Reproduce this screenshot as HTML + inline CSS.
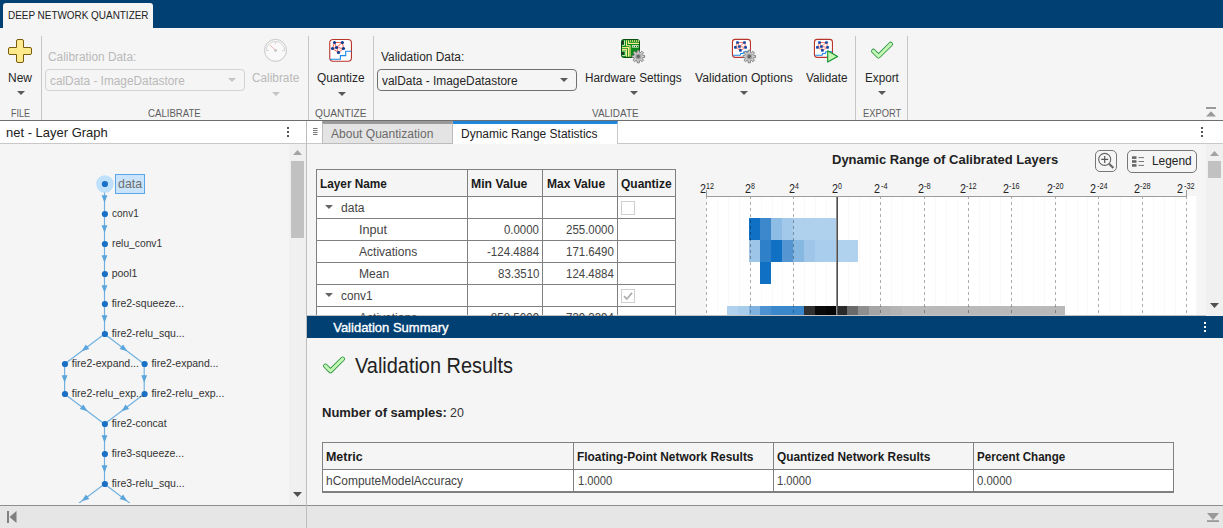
<!DOCTYPE html>
<html><head><meta charset="utf-8">
<style>
*{box-sizing:border-box;margin:0;padding:0}
html,body{width:1223px;height:528px;overflow:hidden;background:#f5f5f5;font-family:"Liberation Sans",sans-serif;color:#212121}
.a{position:absolute}
.t{position:absolute;white-space:nowrap;line-height:1;transform-origin:0 0}
.sep{position:absolute;top:36px;width:1px;height:84px;background:#c6c6c6}
.arrow{position:absolute;width:0;height:0;border-left:4px solid transparent;border-right:4px solid transparent;border-top:4px solid #5a5a5a}
.arrow.d{border-top-color:#c4c4c4}
.combo{position:absolute;height:22px;border:1px solid #707070;border-radius:4px;background:#f5f5f5}
.combo.d{border-color:#d2d2d2}
svg{position:absolute;overflow:visible}
.hl{position:absolute;height:1px;background:#7d7d7d}
.vl{position:absolute;width:1px;background:#7d7d7d}
</style></head><body>
<!-- top bar -->
<div class="a" style="left:0;top:0;width:1223px;height:28px;background:#004073"></div>
<div class="a" style="left:3px;top:3px;width:150px;height:25px;background:#f5f5f5;border-radius:3px 3px 0 0"></div>
<div class="a" style="left:0;top:120px;width:1223px;height:1px;background:#6e6e6e"></div>
<div class="sep" style="left:41px"></div>
<div class="sep" style="left:308px"></div>
<div class="sep" style="left:373px"></div>
<div class="sep" style="left:855px"></div>
<div class="sep" style="left:907px"></div>
<!-- toolstrip arrows/combos -->
<div class="arrow" style="left:17px;top:91px"></div>
<div class="combo d" style="left:45px;top:69px;width:200px"></div>
<div class="arrow d" style="left:228px;top:78px"></div>
<div class="arrow d" style="left:272px;top:92px"></div>
<div class="arrow" style="left:338px;top:92px"></div>
<div class="combo" style="left:377px;top:69px;width:200px"></div>
<div class="arrow" style="left:560px;top:78px"></div>
<div class="arrow" style="left:630px;top:91px"></div>
<div class="arrow" style="left:740px;top:91px"></div>
<div class="arrow" style="left:878px;top:91px"></div>
<svg style="left:0;top:0" width="50" height="70"><path d="M16.50 41.00 Q16.50 39.50 18.00 39.50 L22.00 39.50 Q23.50 39.50 23.50 41.00 L23.50 47.50 L30.00 47.50 Q31.50 47.50 31.50 49.00 L31.50 53.00 Q31.50 54.50 30.00 54.50 L23.50 54.50 L23.50 61.00 Q23.50 62.50 22.00 62.50 L18.00 62.50 Q16.50 62.50 16.50 61.00 L16.50 54.50 L10.00 54.50 Q8.50 54.50 8.50 53.00 L8.50 49.00 Q8.50 47.50 10.00 47.50 L16.50 47.50Z" fill="#fdea8c" stroke="#7a5a0c" stroke-width="1"/></svg>
<svg style="left:260px;top:35px" width="32" height="32" viewBox="260 35 32 32"><circle cx="275.5" cy="50.4" r="11" fill="#f9f9f9" stroke="#c6c6c6" stroke-width="1"/><path d="M266.3 50.6 A9.2 9.2 0 0 1 284.7 50.6" fill="none" stroke="#d6d6d6" stroke-width="1"/><path d="M266.3 50.6h2.6M282.1 50.6h2.6M275.5 41.8v2" stroke="#d0d0d0" stroke-width="1"/><path d="M275.5 50.4L270.3 45.3" stroke="#ecb9a8" stroke-width="1"/><circle cx="275.5" cy="50.4" r="1.4" fill="#c4c4c4"/></svg>
<svg style="left:0;top:0" width="1223" height="70"><rect x="329.75" y="39.55" width="21.70" height="21.70" rx="3.4" fill="#fff" stroke="#b8352b" stroke-width="1.1"/><line x1="334.5" y1="42.5" x2="342.4" y2="42.5" stroke="#f0503f" stroke-width="0.9"/><line x1="334.5" y1="42.5" x2="332.5" y2="48.5" stroke="#f0503f" stroke-width="0.9"/><line x1="334.5" y1="42.5" x2="336.5" y2="47.5" stroke="#f0503f" stroke-width="0.9"/><line x1="342.4" y1="42.5" x2="336.5" y2="47.5" stroke="#f0503f" stroke-width="0.9"/><line x1="342.4" y1="42.5" x2="343.5" y2="48.5" stroke="#f0503f" stroke-width="0.9"/><line x1="332.5" y1="48.5" x2="338.5" y2="52.5" stroke="#f0503f" stroke-width="0.9"/><line x1="336.5" y1="47.5" x2="338.5" y2="52.5" stroke="#f0503f" stroke-width="0.9"/><line x1="343.5" y1="48.5" x2="338.5" y2="52.5" stroke="#f0503f" stroke-width="0.9"/><line x1="336.5" y1="47.5" x2="343.5" y2="48.5" stroke="#f0503f" stroke-width="0.9"/><line x1="332.5" y1="48.5" x2="336.5" y2="47.5" stroke="#f0503f" stroke-width="0.9"/><circle cx="334.5" cy="42.5" r="1.6" fill="#0b3d91"/><circle cx="342.4" cy="42.5" r="1.6" fill="#0b3d91"/><circle cx="332.5" cy="48.5" r="1.6" fill="#0b3d91"/><circle cx="336.5" cy="47.5" r="1.6" fill="#0b3d91"/><circle cx="343.5" cy="48.5" r="1.6" fill="#0b3d91"/><circle cx="338.5" cy="52.5" r="1.6" fill="#0b3d91"/><path d="M329.9 59.3 L340.4 59.3 L340.4 55.6 L345.7 55.6 L345.7 51.3 L351.4 51.3" fill="none" stroke="#1e88e5" stroke-width="1.1"/></svg>
<svg style="left:0;top:0" width="1223" height="70"><rect x="621.5" y="39.5" width="18" height="18" rx="2.2" fill="#0b8a1c" stroke="#08500f" stroke-width="1"/><path d="M626.5 40.3V45.7H630V56.7M628.5 40.3V43.4H639M622 47.6H628.5V56.7M622 49.6H626.5V56.7" fill="none" stroke="#fbe98a" stroke-width="1.1"/><path d="M630.5 40.3v1.4M632.5 40.3v1.4M634.5 40.3v1.4M636.5 40.3v1.4M638.4 40.3v1.4" stroke="#fbe98a" stroke-width="1.1"/><path d="M624.5 40.3V45.4H622M622 51H625.4V55.6H622" fill="none" stroke="#b9f0b0" stroke-width="1"/><rect x="631.9" y="45.1" width="6.7" height="2.5" fill="#dff8d0"/><rect x="632.8" y="45.9" width="1" height="1" fill="#1a3a1a"/><rect x="635" y="45.9" width="1" height="1" fill="#1a3a1a"/><rect x="637" y="45.9" width="1" height="1" fill="#1a3a1a"/><rect x="622.2" y="40.8" width="1.5" height="3.7" fill="#2a2030"/><rect x="622.2" y="52.2" width="1.5" height="2.6" fill="#2a2030"/></svg>
<svg style="left:0;top:0" width="1223" height="70"><path d="M644.61 55.42 L644.61 57.58 L642.62 57.69 L642.20 58.71 L643.53 60.19 L641.99 61.73 L640.51 60.40 L639.49 60.82 L639.38 62.81 L637.22 62.81 L637.11 60.82 L636.09 60.40 L634.61 61.73 L633.07 60.19 L634.40 58.71 L633.98 57.69 L631.99 57.58 L631.99 55.42 L633.98 55.31 L634.40 54.29 L633.07 52.81 L634.61 51.27 L636.09 52.60 L637.11 52.18 L637.22 50.19 L639.38 50.19 L639.49 52.18 L640.51 52.60 L641.99 51.27 L643.53 52.81 L642.20 54.29 L642.62 55.31Z" fill="#cdcdcd" stroke="#6f6f6f" stroke-width="0.8" stroke-linejoin="round"/><circle cx="638.3" cy="56.5" r="3" fill="#a2a2a2"/><circle cx="638.3" cy="56.5" r="1.7" fill="#666"/></svg>
<svg style="left:0;top:0" width="1223" height="70"><rect x="732.45" y="39.4" width="18" height="18" rx="2.8" fill="#fff" stroke="#b8352b" stroke-width="1.1"/><line x1="737.5" y1="42.5" x2="744.5" y2="42.5" stroke="#f2604f" stroke-width="0.8"/><line x1="737.5" y1="42.5" x2="735.4" y2="47.3" stroke="#f2604f" stroke-width="0.8"/><line x1="737.5" y1="42.5" x2="739.4" y2="46.5" stroke="#f2604f" stroke-width="0.8"/><line x1="744.5" y1="42.5" x2="739.4" y2="46.5" stroke="#f2604f" stroke-width="0.8"/><line x1="744.5" y1="42.5" x2="745.6" y2="47.5" stroke="#f2604f" stroke-width="0.8"/><line x1="735.4" y1="47.3" x2="740.4" y2="50.4" stroke="#f2604f" stroke-width="0.8"/><line x1="739.4" y1="46.5" x2="740.4" y2="50.4" stroke="#f2604f" stroke-width="0.8"/><line x1="745.6" y1="47.5" x2="740.4" y2="50.4" stroke="#f2604f" stroke-width="0.8"/><line x1="739.4" y1="46.5" x2="745.6" y2="47.5" stroke="#f2604f" stroke-width="0.8"/><line x1="735.4" y1="47.3" x2="739.4" y2="46.5" stroke="#f2604f" stroke-width="0.8"/><rect x="736.15" y="41.15" width="2.7" height="2.7" rx="0.7" fill="#1048a8"/><rect x="743.15" y="41.15" width="2.7" height="2.7" rx="0.7" fill="#1048a8"/><rect x="734.05" y="45.95" width="2.7" height="2.7" rx="0.7" fill="#1048a8"/><rect x="738.05" y="45.15" width="2.7" height="2.7" rx="0.7" fill="#1048a8"/><rect x="744.25" y="46.10" width="2.7" height="2.7" rx="0.7" fill="#1048a8"/><rect x="739.05" y="49.05" width="2.7" height="2.7" rx="0.7" fill="#1048a8"/><path d="M733.2 55.2 L740.1 55.2 L740.7 53.5 L743.2 53.5 L743.9 51.7 L750.4 51.7" fill="none" stroke="#1e88e5" stroke-width="1.1"/></svg>
<svg style="left:0;top:0" width="1223" height="70"><path d="M755.61 55.42 L755.61 57.58 L753.62 57.69 L753.20 58.71 L754.53 60.19 L752.99 61.73 L751.51 60.40 L750.49 60.82 L750.38 62.81 L748.22 62.81 L748.11 60.82 L747.09 60.40 L745.61 61.73 L744.07 60.19 L745.40 58.71 L744.98 57.69 L742.99 57.58 L742.99 55.42 L744.98 55.31 L745.40 54.29 L744.07 52.81 L745.61 51.27 L747.09 52.60 L748.11 52.18 L748.22 50.19 L750.38 50.19 L750.49 52.18 L751.51 52.60 L752.99 51.27 L754.53 52.81 L753.20 54.29 L753.62 55.31Z" fill="#cdcdcd" stroke="#6f6f6f" stroke-width="0.8" stroke-linejoin="round"/><circle cx="749.3" cy="56.5" r="3" fill="#a2a2a2"/><circle cx="749.3" cy="56.5" r="1.7" fill="#666"/></svg>
<svg style="left:0;top:0" width="1223" height="70"><rect x="814.45" y="39.4" width="18" height="18" rx="2.8" fill="#fff" stroke="#b8352b" stroke-width="1.1"/><line x1="819.5" y1="42.5" x2="826.5" y2="42.5" stroke="#f2604f" stroke-width="0.8"/><line x1="819.5" y1="42.5" x2="817.4" y2="47.3" stroke="#f2604f" stroke-width="0.8"/><line x1="819.5" y1="42.5" x2="821.4" y2="46.5" stroke="#f2604f" stroke-width="0.8"/><line x1="826.5" y1="42.5" x2="821.4" y2="46.5" stroke="#f2604f" stroke-width="0.8"/><line x1="826.5" y1="42.5" x2="827.6" y2="47.5" stroke="#f2604f" stroke-width="0.8"/><line x1="817.4" y1="47.3" x2="822.4" y2="50.4" stroke="#f2604f" stroke-width="0.8"/><line x1="821.4" y1="46.5" x2="822.4" y2="50.4" stroke="#f2604f" stroke-width="0.8"/><line x1="827.6" y1="47.5" x2="822.4" y2="50.4" stroke="#f2604f" stroke-width="0.8"/><line x1="821.4" y1="46.5" x2="827.6" y2="47.5" stroke="#f2604f" stroke-width="0.8"/><line x1="817.4" y1="47.3" x2="821.4" y2="46.5" stroke="#f2604f" stroke-width="0.8"/><rect x="818.15" y="41.15" width="2.7" height="2.7" rx="0.7" fill="#1048a8"/><rect x="825.15" y="41.15" width="2.7" height="2.7" rx="0.7" fill="#1048a8"/><rect x="816.05" y="45.95" width="2.7" height="2.7" rx="0.7" fill="#1048a8"/><rect x="820.05" y="45.15" width="2.7" height="2.7" rx="0.7" fill="#1048a8"/><rect x="826.25" y="46.10" width="2.7" height="2.7" rx="0.7" fill="#1048a8"/><rect x="821.05" y="49.05" width="2.7" height="2.7" rx="0.7" fill="#1048a8"/><path d="M815.2 55.2 L822.1 55.2 L822.7 53.5 L825.2 53.5 L825.9 51.7 L832.4 51.7" fill="none" stroke="#1e88e5" stroke-width="1.1"/></svg>
<svg style="left:0;top:0" width="1223" height="70"><path d="M827.7 50.8 L837.6 56.4 L827.7 62.1 Z" fill="#c2f7b6" stroke="#15902a" stroke-width="1.1" stroke-linejoin="round"/></svg>
<svg style="left:0;top:0" width="1223" height="528"><path d="M873.4 51.1 L878.5 56.2 L890.7 44.1" fill="none" stroke="#2f9140" stroke-width="4.7" stroke-linecap="round" stroke-linejoin="round"/><path d="M873.4 51.1 L878.5 56.2 L890.7 44.1" fill="none" stroke="#c0f8b4" stroke-width="3" stroke-linecap="round" stroke-linejoin="round"/></svg>
<svg style="left:0;top:0" width="1223" height="528"><path d="M325.4 365.9 L330.5 371.0 L342.7 358.9" fill="none" stroke="#2f9140" stroke-width="4.7" stroke-linecap="round" stroke-linejoin="round"/><path d="M325.4 365.9 L330.5 371.0 L342.7 358.9" fill="none" stroke="#c0f8b4" stroke-width="3" stroke-linecap="round" stroke-linejoin="round"/></svg>
<!-- panels -->
<!-- left title -->
<div class="a" style="left:0;top:121px;width:306px;height:22px;background:#fff"></div>
<div class="a" style="left:0;top:143px;width:306px;height:1px;background:#c8c8c8"></div>
<!-- left scrollbar -->
<div class="a" style="left:289px;top:144px;width:17px;height:361px;background:#f0f0f0"></div>
<div class="a" style="left:291px;top:161px;width:13px;height:77px;background:#c1c1c1"></div>
<!-- divider -->
<div class="a" style="left:306px;top:121px;width:1px;height:407px;background:#bdbdbd"></div>
<!-- right tab row -->
<div class="a" style="left:307px;top:121px;width:916px;height:22px;background:#fff"></div>
<div class="a" style="left:307px;top:143px;width:916px;height:1px;background:#c8c8c8"></div>
<div class="a" style="left:322px;top:121px;width:131px;height:23px;background:#e4e4e4;border:1px solid #bcbcbc;border-top:3px solid #999"></div>
<div class="a" style="left:453px;top:121px;width:165px;height:23px;background:#fff;border-right:1px solid #c8c8c8;border-top:3px solid #1f86dd"></div>
<!-- status bar -->
<div class="a" style="left:0;top:505px;width:1223px;height:23px;background:#e6e6e6;border-top:1px solid #8e8e8e"></div>
<div class="a" style="left:306px;top:505px;width:1px;height:23px;background:#bdbdbd"></div>
<div class="a" style="left:0;top:144px;width:289px;height:359px;overflow:hidden"><svg style="left:0;top:0" width="289" height="361" viewBox="0 144 289 361">
<line x1="104.5" y1="184.0" x2="104.5" y2="214.0" stroke="#6fb0e0" stroke-width="1.15"/>
<polygon points="104.5,202.8 101.6,195.2 107.4,195.2" fill="#5aa5dc"/>
<line x1="104.5" y1="214.0" x2="104.5" y2="244.0" stroke="#6fb0e0" stroke-width="1.15"/>
<polygon points="104.5,232.8 101.6,225.2 107.4,225.2" fill="#5aa5dc"/>
<line x1="104.5" y1="244.0" x2="104.5" y2="274.0" stroke="#6fb0e0" stroke-width="1.15"/>
<polygon points="104.5,262.8 101.6,255.2 107.4,255.2" fill="#5aa5dc"/>
<line x1="104.5" y1="274.0" x2="104.5" y2="304.0" stroke="#6fb0e0" stroke-width="1.15"/>
<polygon points="104.5,292.8 101.6,285.2 107.4,285.2" fill="#5aa5dc"/>
<line x1="104.5" y1="304.0" x2="104.5" y2="334.0" stroke="#6fb0e0" stroke-width="1.15"/>
<polygon points="104.5,322.8 101.6,315.2 107.4,315.2" fill="#5aa5dc"/>
<line x1="104.5" y1="334.0" x2="64.6" y2="364.0" stroke="#6fb0e0" stroke-width="1.15"/>
<polygon points="81.6,351.3 85.8,344.4 89.3,349.1" fill="#5aa5dc"/>
<line x1="104.5" y1="334.0" x2="144.2" y2="364.0" stroke="#6fb0e0" stroke-width="1.15"/>
<polygon points="127.3,351.3 119.6,349.1 123.1,344.4" fill="#5aa5dc"/>
<line x1="64.6" y1="364.0" x2="64.6" y2="394.0" stroke="#6fb0e0" stroke-width="1.15"/>
<polygon points="64.6,382.8 61.7,375.2 67.5,375.2" fill="#5aa5dc"/>
<line x1="144.2" y1="364.0" x2="144.2" y2="394.0" stroke="#6fb0e0" stroke-width="1.15"/>
<polygon points="144.2,382.8 141.3,375.2 147.1,375.2" fill="#5aa5dc"/>
<line x1="64.6" y1="394.0" x2="104.5" y2="424.0" stroke="#6fb0e0" stroke-width="1.15"/>
<polygon points="87.5,411.3 79.8,409.1 83.3,404.4" fill="#5aa5dc"/>
<line x1="144.2" y1="394.0" x2="104.5" y2="424.0" stroke="#6fb0e0" stroke-width="1.15"/>
<polygon points="121.4,411.3 125.6,404.4 129.1,409.1" fill="#5aa5dc"/>
<line x1="104.5" y1="424.0" x2="104.5" y2="454.0" stroke="#6fb0e0" stroke-width="1.15"/>
<polygon points="104.5,442.8 101.6,435.2 107.4,435.2" fill="#5aa5dc"/>
<line x1="104.5" y1="454.0" x2="104.5" y2="484.0" stroke="#6fb0e0" stroke-width="1.15"/>
<polygon points="104.5,472.8 101.6,465.2 107.4,465.2" fill="#5aa5dc"/>
<line x1="104.5" y1="484.0" x2="64.6" y2="514.0" stroke="#6fb0e0" stroke-width="1.15"/>
<polygon points="81.6,501.3 85.8,494.4 89.3,499.1" fill="#5aa5dc"/>
<line x1="104.5" y1="484.0" x2="144.2" y2="514.0" stroke="#6fb0e0" stroke-width="1.15"/>
<polygon points="127.3,501.3 119.6,499.1 123.1,494.4" fill="#5aa5dc"/>
<circle cx="104.9" cy="184" r="8.8" fill="#bfe1fc"/>
<circle cx="104.9" cy="184.0" r="3.1" fill="#1a70c4"/>
<circle cx="104.9" cy="214.0" r="3.1" fill="#1a70c4"/>
<circle cx="104.9" cy="244.0" r="3.1" fill="#1a70c4"/>
<circle cx="104.9" cy="274.0" r="3.1" fill="#1a70c4"/>
<circle cx="104.9" cy="304.0" r="3.1" fill="#1a70c4"/>
<circle cx="104.9" cy="334.0" r="3.1" fill="#1a70c4"/>
<circle cx="65.0" cy="364.0" r="3.1" fill="#1a70c4"/>
<circle cx="144.6" cy="364.0" r="3.1" fill="#1a70c4"/>
<circle cx="65.0" cy="394.0" r="3.1" fill="#1a70c4"/>
<circle cx="144.6" cy="394.0" r="3.1" fill="#1a70c4"/>
<circle cx="104.9" cy="424.0" r="3.1" fill="#1a70c4"/>
<circle cx="104.9" cy="454.0" r="3.1" fill="#1a70c4"/>
<circle cx="104.9" cy="484.0" r="3.1" fill="#1a70c4"/>
<rect x="115.5" y="174.5" width="29" height="19" fill="#c9e4fb" stroke="#5aa5e6" stroke-width="1"/>
</svg></div>
<svg style="left:293px;top:150px" width="9" height="5"><polygon points="4.5,0 9,5 0,5" fill="#a3a3a3"/></svg>
<svg style="left:293px;top:492px" width="9" height="5"><polygon points="0,0 9,0 4.5,5" fill="#505050"/></svg>
<svg style="left:287px;top:127px" width="3" height="11"><rect x="0" y="0" width="2" height="2" fill="#555"/><rect x="0" y="4" width="2" height="2" fill="#555"/><rect x="0" y="8" width="2" height="2" fill="#555"/></svg>
<svg style="left:1201px;top:127px" width="3" height="11"><rect x="0" y="0" width="2" height="2" fill="#555"/><rect x="0" y="4" width="2" height="2" fill="#555"/><rect x="0" y="8" width="2" height="2" fill="#555"/></svg>
<svg style="z-index:6;left:1204px;top:322px" width="3" height="11"><rect x="0" y="0" width="2" height="2" fill="#fff"/><rect x="0" y="4" width="2" height="2" fill="#fff"/><rect x="0" y="8" width="2" height="2" fill="#fff"/></svg>
<svg style="left:313px;top:128px" width="5" height="8"><rect x="0" y="0" width="4.5" height="1" fill="#777"/><rect x="0" y="2" width="4.5" height="1" fill="#777"/><rect x="0" y="4" width="4.5" height="1" fill="#777"/><rect x="0" y="6" width="4.5" height="1" fill="#777"/></svg>
<div class="a" style="left:307px;top:144px;width:916px;height:172px;overflow:hidden">
<div class="a" style="left:9px;top:25px;width:360px;height:28px;background:#f5f5f5;"></div>
<div class="a" style="left:9px;top:53px;width:360px;height:130px;background:#fff;"></div>
<div class="a" style="left:9px;top:25px;width:360px;height:1px;background:#808080;"></div>
<div class="a" style="left:9px;top:52px;width:360px;height:1px;background:#808080;"></div>
<div class="a" style="left:9px;top:74px;width:360px;height:1px;background:#808080;"></div>
<div class="a" style="left:9px;top:96px;width:360px;height:1px;background:#808080;"></div>
<div class="a" style="left:9px;top:118px;width:360px;height:1px;background:#808080;"></div>
<div class="a" style="left:9px;top:140px;width:360px;height:1px;background:#808080;"></div>
<div class="a" style="left:9px;top:162px;width:360px;height:1px;background:#808080;"></div>
<div class="a" style="left:9px;top:25px;width:1px;height:160px;background:#808080;"></div>
<div class="a" style="left:160px;top:25px;width:1px;height:160px;background:#808080;"></div>
<div class="a" style="left:235px;top:25px;width:1px;height:160px;background:#808080;"></div>
<div class="a" style="left:310px;top:25px;width:1px;height:160px;background:#808080;"></div>
<div class="a" style="left:368px;top:25px;width:1px;height:160px;background:#808080;"></div>
<div class="a" style="left:314px;top:57px;width:14px;height:14px;background:#fff;border:1px solid #cfcfcf"></div>
<div class="a" style="left:314px;top:145px;width:14px;height:14px;background:#fff;border:1px solid #cfcfcf"></div>
<svg style="left:314px;top:145px" width="14" height="14"><path d="M3 7.2 L5.8 10 L11 3.8" fill="none" stroke="#b0b0b0" stroke-width="1.8"/></svg>
<svg style="left:18px;top:61px" width="8" height="4"><polygon points="0,0 8,0 4,4" fill="#666"/></svg>
<svg style="left:18px;top:149px" width="8" height="4"><polygon points="0,0 8,0 4,4" fill="#666"/></svg>
<div class="a" style="left:399px;top:52px;width:490.5px;height:140px;background:#fff;"></div>
<div class="a" style="left:410px;top:53px;width:1px;height:140px;background:#f9f9f9;"></div>
<div class="a" style="left:421px;top:53px;width:1px;height:140px;background:#f9f9f9;"></div>
<div class="a" style="left:432px;top:53px;width:1px;height:140px;background:#f9f9f9;"></div>
<div class="a" style="left:454px;top:53px;width:1px;height:140px;background:#f9f9f9;"></div>
<div class="a" style="left:465px;top:53px;width:1px;height:140px;background:#f9f9f9;"></div>
<div class="a" style="left:475px;top:53px;width:1px;height:140px;background:#f9f9f9;"></div>
<div class="a" style="left:497px;top:53px;width:1px;height:140px;background:#f9f9f9;"></div>
<div class="a" style="left:508px;top:53px;width:1px;height:140px;background:#f9f9f9;"></div>
<div class="a" style="left:519px;top:53px;width:1px;height:140px;background:#f9f9f9;"></div>
<div class="a" style="left:541px;top:53px;width:1px;height:140px;background:#f9f9f9;"></div>
<div class="a" style="left:552px;top:53px;width:1px;height:140px;background:#f9f9f9;"></div>
<div class="a" style="left:563px;top:53px;width:1px;height:140px;background:#f9f9f9;"></div>
<div class="a" style="left:584px;top:53px;width:1px;height:140px;background:#f9f9f9;"></div>
<div class="a" style="left:595px;top:53px;width:1px;height:140px;background:#f9f9f9;"></div>
<div class="a" style="left:606px;top:53px;width:1px;height:140px;background:#f9f9f9;"></div>
<div class="a" style="left:628px;top:53px;width:1px;height:140px;background:#f9f9f9;"></div>
<div class="a" style="left:639px;top:53px;width:1px;height:140px;background:#f9f9f9;"></div>
<div class="a" style="left:650px;top:53px;width:1px;height:140px;background:#f9f9f9;"></div>
<div class="a" style="left:672px;top:53px;width:1px;height:140px;background:#f9f9f9;"></div>
<div class="a" style="left:682px;top:53px;width:1px;height:140px;background:#f9f9f9;"></div>
<div class="a" style="left:693px;top:53px;width:1px;height:140px;background:#f9f9f9;"></div>
<div class="a" style="left:715px;top:53px;width:1px;height:140px;background:#f9f9f9;"></div>
<div class="a" style="left:726px;top:53px;width:1px;height:140px;background:#f9f9f9;"></div>
<div class="a" style="left:737px;top:53px;width:1px;height:140px;background:#f9f9f9;"></div>
<div class="a" style="left:759px;top:53px;width:1px;height:140px;background:#f9f9f9;"></div>
<div class="a" style="left:770px;top:53px;width:1px;height:140px;background:#f9f9f9;"></div>
<div class="a" style="left:780px;top:53px;width:1px;height:140px;background:#f9f9f9;"></div>
<div class="a" style="left:802px;top:53px;width:1px;height:140px;background:#f9f9f9;"></div>
<div class="a" style="left:813px;top:53px;width:1px;height:140px;background:#f9f9f9;"></div>
<div class="a" style="left:824px;top:53px;width:1px;height:140px;background:#f9f9f9;"></div>
<div class="a" style="left:846px;top:53px;width:1px;height:140px;background:#f9f9f9;"></div>
<div class="a" style="left:857px;top:53px;width:1px;height:140px;background:#f9f9f9;"></div>
<div class="a" style="left:868px;top:53px;width:1px;height:140px;background:#f9f9f9;"></div>
<div class="a" style="left:889px;top:53px;width:1px;height:140px;background:#f9f9f9;"></div>
<div class="a" style="left:442.27px;top:74px;width:10.94px;height:22px;background:#1070c4"></div>
<div class="a" style="left:453.17px;top:74px;width:10.94px;height:22px;background:#3d88cc"></div>
<div class="a" style="left:464.06px;top:74px;width:10.94px;height:22px;background:#8dbce4"></div>
<div class="a" style="left:474.95px;top:74px;width:10.94px;height:22px;background:#a3c9ea"></div>
<div class="a" style="left:485.85px;top:74px;width:10.94px;height:22px;background:#afd1ee"></div>
<div class="a" style="left:496.74px;top:74px;width:10.94px;height:22px;background:#afd1ee"></div>
<div class="a" style="left:507.63px;top:74px;width:10.94px;height:22px;background:#afd1ee"></div>
<div class="a" style="left:518.53px;top:74px;width:10.94px;height:22px;background:#afd1ee"></div>
<div class="a" style="left:442.27px;top:96px;width:10.94px;height:22px;background:#9cc5e8"></div>
<div class="a" style="left:453.17px;top:96px;width:10.94px;height:22px;background:#2e80c8"></div>
<div class="a" style="left:464.06px;top:96px;width:10.94px;height:22px;background:#1070c4"></div>
<div class="a" style="left:474.95px;top:96px;width:10.94px;height:22px;background:#5596d2"></div>
<div class="a" style="left:485.85px;top:96px;width:10.94px;height:22px;background:#86b8e2"></div>
<div class="a" style="left:496.74px;top:96px;width:10.94px;height:22px;background:#9fc6e9"></div>
<div class="a" style="left:507.63px;top:96px;width:10.94px;height:22px;background:#a9cdec"></div>
<div class="a" style="left:518.53px;top:96px;width:10.94px;height:22px;background:#a9cdec"></div>
<div class="a" style="left:529.42px;top:96px;width:10.94px;height:22px;background:#b1d2ee"></div>
<div class="a" style="left:540.31px;top:96px;width:10.94px;height:22px;background:#b1d2ee"></div>
<div class="a" style="left:453.17px;top:118px;width:10.94px;height:22px;background:#1070c4"></div>
<div class="a" style="left:420.49px;top:162px;width:10.94px;height:22px;background:#b1d2ee"></div>
<div class="a" style="left:431.38px;top:162px;width:10.94px;height:22px;background:#a8ccec"></div>
<div class="a" style="left:442.27px;top:162px;width:10.94px;height:22px;background:#7fb2e0"></div>
<div class="a" style="left:453.17px;top:162px;width:10.94px;height:22px;background:#4d92d0"></div>
<div class="a" style="left:464.06px;top:162px;width:10.94px;height:22px;background:#3a87cc"></div>
<div class="a" style="left:474.95px;top:162px;width:10.94px;height:22px;background:#3a87cc"></div>
<div class="a" style="left:485.85px;top:162px;width:10.94px;height:22px;background:#3a87cc"></div>
<div class="a" style="left:496.74px;top:162px;width:10.94px;height:22px;background:#303030"></div>
<div class="a" style="left:507.63px;top:162px;width:10.94px;height:22px;background:#0a0a0a"></div>
<div class="a" style="left:518.53px;top:162px;width:10.94px;height:22px;background:#050505"></div>
<div class="a" style="left:529.42px;top:162px;width:10.94px;height:22px;background:#2a2a2a"></div>
<div class="a" style="left:540.31px;top:162px;width:10.94px;height:22px;background:#6a6a6a"></div>
<div class="a" style="left:551.20px;top:162px;width:10.94px;height:22px;background:#8f8f8f"></div>
<div class="a" style="left:562.10px;top:162px;width:10.94px;height:22px;background:#a5a5a5"></div>
<div class="a" style="left:572.99px;top:162px;width:10.94px;height:22px;background:#b0b0b0"></div>
<div class="a" style="left:583.88px;top:162px;width:10.94px;height:22px;background:#b4b4b4"></div>
<div class="a" style="left:594.78px;top:162px;width:10.94px;height:22px;background:#b9b9b9"></div>
<div class="a" style="left:605.67px;top:162px;width:10.94px;height:22px;background:#b9b9b9"></div>
<div class="a" style="left:616.56px;top:162px;width:10.94px;height:22px;background:#b9b9b9"></div>
<div class="a" style="left:627.46px;top:162px;width:10.94px;height:22px;background:#b9b9b9"></div>
<div class="a" style="left:638.35px;top:162px;width:10.94px;height:22px;background:#b9b9b9"></div>
<div class="a" style="left:649.24px;top:162px;width:10.94px;height:22px;background:#b9b9b9"></div>
<div class="a" style="left:660.14px;top:162px;width:10.94px;height:22px;background:#b9b9b9"></div>
<div class="a" style="left:671.03px;top:162px;width:10.94px;height:22px;background:#b9b9b9"></div>
<div class="a" style="left:681.92px;top:162px;width:10.94px;height:22px;background:#b9b9b9"></div>
<div class="a" style="left:692.82px;top:162px;width:10.94px;height:22px;background:#b9b9b9"></div>
<div class="a" style="left:703.71px;top:162px;width:10.94px;height:22px;background:#b9b9b9"></div>
<div class="a" style="left:714.60px;top:162px;width:10.94px;height:22px;background:#b9b9b9"></div>
<div class="a" style="left:725.50px;top:162px;width:10.94px;height:22px;background:#b9b9b9"></div>
<div class="a" style="left:736.39px;top:162px;width:10.94px;height:22px;background:#b9b9b9"></div>
<div class="a" style="left:747.28px;top:162px;width:10.94px;height:22px;background:#b9b9b9"></div>
<div class="a" style="left:399px;top:52px;width:1px;height:140px;background:repeating-linear-gradient(to bottom,rgba(0,0,0,0.32) 0,rgba(0,0,0,0.32) 3px,transparent 3px,transparent 6px)"></div>
<div class="a" style="left:399px;top:46px;width:1px;height:6px;background:#9a9a9a;"></div>
<div class="a" style="left:443px;top:52px;width:1px;height:140px;background:repeating-linear-gradient(to bottom,rgba(0,0,0,0.32) 0,rgba(0,0,0,0.32) 3px,transparent 3px,transparent 6px)"></div>
<div class="a" style="left:486px;top:52px;width:1px;height:140px;background:repeating-linear-gradient(to bottom,rgba(0,0,0,0.32) 0,rgba(0,0,0,0.32) 3px,transparent 3px,transparent 6px)"></div>
<div class="a" style="left:529px;top:52px;width:1px;height:140px;background:#8e8e8e;"></div>
<div class="a" style="left:530px;top:52px;width:1px;height:140px;background:#4e4e4e;"></div>
<div class="a" style="left:573px;top:52px;width:1px;height:140px;background:repeating-linear-gradient(to bottom,rgba(0,0,0,0.32) 0,rgba(0,0,0,0.32) 3px,transparent 3px,transparent 6px)"></div>
<div class="a" style="left:617px;top:52px;width:1px;height:140px;background:repeating-linear-gradient(to bottom,rgba(0,0,0,0.32) 0,rgba(0,0,0,0.32) 3px,transparent 3px,transparent 6px)"></div>
<div class="a" style="left:661px;top:52px;width:1px;height:140px;background:repeating-linear-gradient(to bottom,rgba(0,0,0,0.32) 0,rgba(0,0,0,0.32) 3px,transparent 3px,transparent 6px)"></div>
<div class="a" style="left:704px;top:52px;width:1px;height:140px;background:repeating-linear-gradient(to bottom,rgba(0,0,0,0.32) 0,rgba(0,0,0,0.32) 3px,transparent 3px,transparent 6px)"></div>
<div class="a" style="left:748px;top:52px;width:1px;height:140px;background:repeating-linear-gradient(to bottom,rgba(0,0,0,0.32) 0,rgba(0,0,0,0.32) 3px,transparent 3px,transparent 6px)"></div>
<div class="a" style="left:791px;top:52px;width:1px;height:140px;background:repeating-linear-gradient(to bottom,rgba(0,0,0,0.32) 0,rgba(0,0,0,0.32) 3px,transparent 3px,transparent 6px)"></div>
<div class="a" style="left:835px;top:52px;width:1px;height:140px;background:repeating-linear-gradient(to bottom,rgba(0,0,0,0.32) 0,rgba(0,0,0,0.32) 3px,transparent 3px,transparent 6px)"></div>
<div class="a" style="left:879px;top:52px;width:1px;height:140px;background:repeating-linear-gradient(to bottom,rgba(0,0,0,0.32) 0,rgba(0,0,0,0.32) 3px,transparent 3px,transparent 6px)"></div>
<div class="a" style="left:879px;top:46px;width:1px;height:6px;background:#9a9a9a;"></div>
<div class="a" style="left:399px;top:52px;width:480.5px;height:1px;background:#9c9c9c;"></div>
<div class="a" style="left:788px;top:6px;width:22px;height:22px;border:1px solid #777;border-radius:5px"></div>
<svg style="left:788px;top:6px" width="22" height="22" viewBox="0 0 22 22"><circle cx="9.7" cy="9.4" r="6" fill="none" stroke="#666" stroke-width="1.1"/><path d="M6.2 9.4h7M9.7 5.9v7" stroke="#555" stroke-width="1.2"/><path d="M14 13.8l4.4 4.2" stroke="#666" stroke-width="2.1"/></svg>
<div class="a" style="left:820px;top:6px;width:70px;height:22.5px;border:1px solid #777;border-radius:5px"></div>
<svg style="left:825px;top:12px" width="13" height="11" viewBox="0 0 13 11"><rect x="0" y="0.3" width="4.5" height="2.6" fill="#666"/><rect x="6.5" y="1.1" width="5.5" height="1" fill="#777"/><rect x="0" y="4.2" width="4.5" height="2.6" fill="#666"/><rect x="6.5" y="5.0" width="5.5" height="1" fill="#777"/><rect x="0" y="8.1" width="4.5" height="2.6" fill="#666"/><rect x="6.5" y="8.9" width="5.5" height="1" fill="#777"/></svg>
<div class="a" style="left:0px;top:171px;width:899px;height:1px;background:#c2c2c2;"></div>
<div class="a" style="left:899px;top:0px;width:17px;height:172px;background:#f0f0f0;"></div>
<div class="a" style="left:901px;top:17px;width:13px;height:17px;background:#c1c1c1;"></div>
<svg style="left:903px;top:7px" width="9" height="5"><polygon points="4.5,0 9,5 0,5" fill="#a3a3a3"/></svg>
<svg style="left:903px;top:159px" width="9" height="5"><polygon points="0,0 9,0 4.5,5" fill="#505050"/></svg>
</div>
<div class="a" style="left:307px;top:316px;width:916px;height:22px;background:#004073;z-index:5"></div>
<div class="a" style="left:322px;top:442px;width:852px;height:28px;background:#f5f5f5"></div>
<div class="a" style="left:322px;top:470px;width:852px;height:22px;background:#fff"></div>
<div class="a" style="left:322px;top:442px;width:852px;height:1px;background:#808080"></div>
<div class="a" style="left:322px;top:469px;width:852px;height:1px;background:#808080"></div>
<div class="a" style="left:322px;top:491px;width:852px;height:2px;background:#808080"></div>
<div class="a" style="left:322px;top:442px;width:1px;height:50px;background:#808080"></div>
<div class="a" style="left:573px;top:442px;width:1px;height:50px;background:#808080"></div>
<div class="a" style="left:773px;top:442px;width:1px;height:50px;background:#808080"></div>
<div class="a" style="left:973px;top:442px;width:1px;height:50px;background:#808080"></div>
<div class="a" style="left:1173px;top:442px;width:1px;height:50px;background:#808080"></div>
<svg style="left:7px;top:511px" width="10" height="12"><rect x="0" y="0" width="2" height="12" fill="#808080"/><polygon points="9.5,0 9.5,12 2.5,6" fill="#808080"/></svg>
<svg style="left:1207px;top:513px" width="12" height="9"><polygon points="0,0 12,0 6,7" fill="#999"/><rect x="0" y="7.2" width="12" height="1.8" fill="#999"/></svg>
<svg style="left:1206px;top:107px" width="10" height="10"><rect x="0" y="0" width="10" height="2" fill="#9a9a9a"/><polygon points="0,9.6 10,9.6 5,4.2" fill="#9a9a9a"/></svg>
<div class="t" style="left:8.00px;top:10px;font-size:11px;color:#222;transform:scaleX(0.9026);">DEEP NETWORK QUANTIZER</div>
<div class="t" style="left:8.20px;top:72px;font-size:12.5px;color:#262626;transform:scaleX(0.9594);">New</div>
<div class="t" style="left:11.20px;top:108px;font-size:11.5px;color:#5e5e5e;transform:scaleX(0.7820);">FILE</div>
<div class="t" style="left:47.90px;top:51px;font-size:12.5px;color:#b9b9b9;transform:scaleX(0.9483);">Calibration Data:</div>
<div class="t" style="left:49.60px;top:75px;font-size:12.5px;color:#b9b9b9;transform:scaleX(0.9464);">calData - ImageDatastore</div>
<div class="t" style="left:251.60px;top:72px;font-size:12.5px;color:#b9b9b9;transform:scaleX(0.9454);">Calibrate</div>
<div class="t" style="left:148.40px;top:108px;font-size:11.5px;color:#5e5e5e;transform:scaleX(0.8373);">CALIBRATE</div>
<div class="t" style="left:316.90px;top:72px;font-size:12.5px;color:#262626;transform:scaleX(0.9494);">Quantize</div>
<div class="t" style="left:315.40px;top:108px;font-size:11.5px;color:#5e5e5e;transform:scaleX(0.8858);">QUANTIZE</div>
<div class="t" style="left:380.50px;top:51px;font-size:12.5px;color:#262626;transform:scaleX(0.9527);">Validation Data:</div>
<div class="t" style="left:381.80px;top:75px;font-size:12.5px;color:#262626;transform:scaleX(0.9527);">valData - ImageDatastore</div>
<div class="t" style="left:584.90px;top:72px;font-size:12.5px;color:#262626;transform:scaleX(0.9394);">Hardware Settings</div>
<div class="t" style="left:694.60px;top:72px;font-size:12.5px;color:#262626;transform:scaleX(0.9728);">Validation Options</div>
<div class="t" style="left:805.60px;top:72px;font-size:12.5px;color:#262626;transform:scaleX(0.9401);">Validate</div>
<div class="t" style="left:591.60px;top:108px;font-size:11.5px;color:#5e5e5e;transform:scaleX(0.8645);">VALIDATE</div>
<div class="t" style="left:864.50px;top:72px;font-size:12.5px;color:#262626;transform:scaleX(0.9352);">Export</div>
<div class="t" style="left:862.60px;top:108px;font-size:11.5px;color:#5e5e5e;transform:scaleX(0.8114);">EXPORT</div>
<div class="t" style="left:5.90px;top:126px;font-size:13.5px;color:#222;transform:scaleX(0.9611);">net - Layer Graph</div>
<div class="t" style="left:331.00px;top:128px;font-size:12.5px;color:#6a6a6a;transform:scaleX(0.9631);">About Quantization</div>
<div class="t" style="left:461.10px;top:128px;font-size:12.5px;color:#222;transform:scaleX(0.9591);">Dynamic Range Statistics</div>
<div class="t" style="left:117.60px;top:177px;font-size:13px;color:#6e6e6e;transform:scaleX(0.9521);">data</div>
<div class="t" style="left:111.70px;top:208px;font-size:10.5px;color:#333;transform:scaleX(0.9525);">conv1</div>
<div class="t" style="left:111.70px;top:238px;font-size:10.5px;color:#333;transform:scaleX(0.9771);">relu_conv1</div>
<div class="t" style="left:111.70px;top:268px;font-size:10.5px;color:#333;">pool1</div>
<div class="t" style="left:111.70px;top:298px;font-size:10.5px;color:#333;">fire2-squeeze...</div>
<div class="t" style="left:111.70px;top:328px;font-size:10.5px;color:#333;">fire2-relu_squ...</div>
<div class="t" style="left:71.80px;top:358px;font-size:10.5px;color:#333;">fire2-expand...</div>
<div class="t" style="left:151.40px;top:358px;font-size:10.5px;color:#333;">fire2-expand...</div>
<div class="t" style="left:71.80px;top:388px;font-size:10.5px;color:#333;">fire2-relu_exp...</div>
<div class="t" style="left:151.40px;top:388px;font-size:10.5px;color:#333;">fire2-relu_exp...</div>
<div class="t" style="left:111.70px;top:418px;font-size:10.5px;color:#333;">fire2-concat</div>
<div class="t" style="left:111.70px;top:448px;font-size:10.5px;color:#333;">fire3-squeeze...</div>
<div class="t" style="left:111.70px;top:478px;font-size:10.5px;color:#333;">fire3-relu_squ...</div>
<div class="t" style="left:320.20px;top:178px;font-size:12.5px;color:#1a1a1a;font-weight:700;transform:scaleX(0.9439);">Layer Name</div>
<div class="t" style="left:471.10px;top:178px;font-size:12.5px;color:#1a1a1a;font-weight:700;transform:scaleX(0.9782);">Min Value</div>
<div class="t" style="left:546.60px;top:178px;font-size:12.5px;color:#1a1a1a;font-weight:700;transform:scaleX(0.9611);">Max Value</div>
<div class="t" style="left:620.80px;top:178px;font-size:12.5px;color:#1a1a1a;font-weight:700;transform:scaleX(0.9584);">Quantize</div>
<div class="t" style="left:340.60px;top:202px;font-size:12.5px;color:#444;transform:scaleX(0.9694);">data</div>
<div class="t" style="left:359.00px;top:224px;font-size:12.5px;color:#444;transform:scaleX(1.0103);">Input</div>
<div class="t" style="left:359.00px;top:246px;font-size:12.5px;color:#444;transform:scaleX(0.9627);">Activations</div>
<div class="t" style="left:359.00px;top:268px;font-size:12.5px;color:#444;transform:scaleX(0.9654);">Mean</div>
<div class="t" style="left:340.60px;top:290px;font-size:12.5px;color:#444;transform:scaleX(0.9473);">conv1</div>
<div class="t" style="left:359.00px;top:312px;font-size:12.5px;color:#444;transform:scaleX(0.9627);">Activations</div>
<div class="t" style="left:504.10px;top:224px;font-size:12.5px;color:#444;transform:scaleX(0.9128);">0.0000</div>
<div class="t" style="left:566.30px;top:224px;font-size:12.5px;color:#444;transform:scaleX(0.9187);">255.0000</div>
<div class="t" style="left:486.90px;top:246px;font-size:12.5px;color:#444;transform:scaleX(0.9252);">-124.4884</div>
<div class="t" style="left:566.30px;top:246px;font-size:12.5px;color:#444;transform:scaleX(0.9187);">171.6490</div>
<div class="t" style="left:497.50px;top:268px;font-size:12.5px;color:#444;transform:scaleX(0.9184);">83.3510</div>
<div class="t" style="left:566.30px;top:268px;font-size:12.5px;color:#444;transform:scaleX(0.9187);">124.4884</div>
<div class="t" style="left:486.90px;top:312px;font-size:12.5px;color:#444;transform:scaleX(0.9252);">-858.5009</div>
<div class="t" style="left:566.30px;top:312px;font-size:12.5px;color:#444;transform:scaleX(0.9187);">739.3394</div>
<div class="t" style="left:831.90px;top:153px;font-size:13.5px;color:#222;font-weight:700;transform:scaleX(0.9633);">Dynamic Range of Calibrated Layers</div>
<div class="t" style="left:1152.10px;top:155px;font-size:12.5px;color:#222;transform:scaleX(0.9516);">Legend</div>
<div class="t" style="left:333.20px;top:321px;font-size:13px;color:#fff;-webkit-text-stroke:0.35px #fff;z-index:6;">Validation Summary</div>
<div class="t" style="left:355.20px;top:356px;font-size:21.5px;color:#222;transform:scaleX(0.9267);">Validation Results</div>
<div class="t" style="left:322.10px;top:406px;font-size:13.5px;color:#222;font-weight:700;transform:scaleX(0.9624);">Number of samples:</div>
<div class="t" style="left:450.40px;top:406px;font-size:13.5px;color:#333;transform:scaleX(0.9181);">20</div>
<div class="t" style="left:326.10px;top:451px;font-size:12.5px;color:#1a1a1a;font-weight:700;transform:scaleX(0.9938);">Metric</div>
<div class="t" style="left:577.10px;top:451px;font-size:12.5px;color:#1a1a1a;font-weight:700;transform:scaleX(0.9518);">Floating-Point Network Results</div>
<div class="t" style="left:777.00px;top:451px;font-size:12.5px;color:#1a1a1a;font-weight:700;transform:scaleX(0.9478);">Quantized Network Results</div>
<div class="t" style="left:977.30px;top:451px;font-size:12.5px;color:#1a1a1a;font-weight:700;transform:scaleX(0.9267);">Percent Change</div>
<div class="t" style="left:326.10px;top:475px;font-size:12.5px;color:#444;transform:scaleX(0.9572);">hComputeModelAccuracy</div>
<div class="t" style="left:577.60px;top:475px;font-size:12.5px;color:#444;transform:scaleX(0.8971);">1.0000</div>
<div class="t" style="left:777.40px;top:475px;font-size:12.5px;color:#444;transform:scaleX(0.8971);">1.0000</div>
<div class="t" style="left:977.30px;top:475px;font-size:12.5px;color:#444;transform:scaleX(0.9128);">0.0000</div>
<div class="t" style="left:699.50px;top:183px;font-size:12.5px;color:#222;transform:scaleX(0.8629);">2</div>
<div class="t" style="left:705.70px;top:182px;font-size:9px;color:#222;transform:scaleX(0.7888);">12</div>
<div class="t" style="left:745.07px;top:183px;font-size:12.5px;color:#222;transform:scaleX(0.8629);">2</div>
<div class="t" style="left:751.27px;top:182px;font-size:9px;color:#222;transform:scaleX(0.7776);">8</div>
<div class="t" style="left:788.65px;top:183px;font-size:12.5px;color:#222;transform:scaleX(0.8629);">2</div>
<div class="t" style="left:794.85px;top:182px;font-size:9px;color:#222;transform:scaleX(0.7776);">4</div>
<div class="t" style="left:832.22px;top:183px;font-size:12.5px;color:#222;transform:scaleX(0.8629);">2</div>
<div class="t" style="left:838.42px;top:182px;font-size:9px;color:#222;transform:scaleX(0.7776);">0</div>
<div class="t" style="left:874.44px;top:183px;font-size:12.5px;color:#222;transform:scaleX(0.8629);">2</div>
<div class="t" style="left:880.64px;top:182px;font-size:9px;color:#222;transform:scaleX(0.8234);">-4</div>
<div class="t" style="left:918.01px;top:183px;font-size:12.5px;color:#222;transform:scaleX(0.8629);">2</div>
<div class="t" style="left:924.21px;top:182px;font-size:9px;color:#222;transform:scaleX(0.8234);">-8</div>
<div class="t" style="left:959.59px;top:183px;font-size:12.5px;color:#222;transform:scaleX(0.8629);">2</div>
<div class="t" style="left:965.79px;top:182px;font-size:9px;color:#222;transform:scaleX(0.8144);">-12</div>
<div class="t" style="left:1003.16px;top:183px;font-size:12.5px;color:#222;transform:scaleX(0.8629);">2</div>
<div class="t" style="left:1009.36px;top:182px;font-size:9px;color:#222;transform:scaleX(0.8144);">-16</div>
<div class="t" style="left:1046.73px;top:183px;font-size:12.5px;color:#222;transform:scaleX(0.8629);">2</div>
<div class="t" style="left:1052.93px;top:182px;font-size:9px;color:#222;transform:scaleX(0.8144);">-20</div>
<div class="t" style="left:1090.30px;top:183px;font-size:12.5px;color:#222;transform:scaleX(0.8629);">2</div>
<div class="t" style="left:1096.50px;top:182px;font-size:9px;color:#222;transform:scaleX(0.8144);">-24</div>
<div class="t" style="left:1133.88px;top:183px;font-size:12.5px;color:#222;transform:scaleX(0.8629);">2</div>
<div class="t" style="left:1140.08px;top:182px;font-size:9px;color:#222;transform:scaleX(0.8144);">-28</div>
<div class="t" style="left:1177.45px;top:183px;font-size:12.5px;color:#222;transform:scaleX(0.8629);">2</div>
<div class="t" style="left:1183.65px;top:182px;font-size:9px;color:#222;transform:scaleX(0.8144);">-32</div>
</body></html>
